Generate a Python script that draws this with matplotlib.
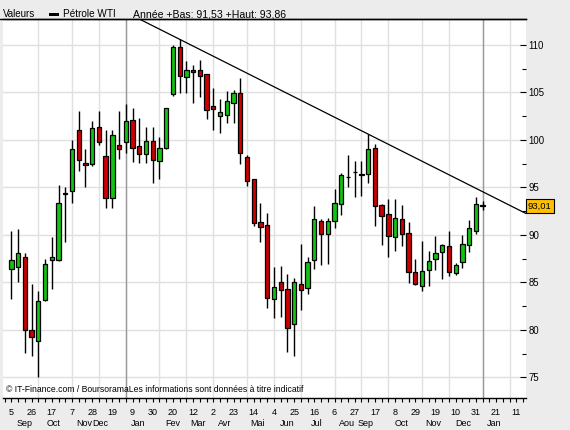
import numpy as np
import matplotlib.pyplot as plt
import matplotlib.transforms as mtransforms
from matplotlib.lines import Line2D

plt.rcParams['font.family'] = ['Liberation Sans', 'DejaVu Sans']

# Weekly candles of WTI crude, week of 5 Sep 2011 -> week of 7 Jan 2013
opens = [86.4, 86.6, 87.7, 79.95, 78.85, 83.1, 87.3, 87.3, 94.3, 94.65,
         101.0, 97.6, 97.5, 101.3, 98.3, 93.84, 99.5, 99.8, 102.1, 99.35,
         98.5, 99.87, 97.77, 99.1, 104.82, 109.74, 106.58, 107.35, 107.35, 106.9,
         103.56, 102.5, 102.58, 103.9, 104.9, 98.2, 95.84, 91.32, 91.03, 83.2,
         85.0, 84.26, 80.58, 84.79, 84.37, 87.32, 91.45, 90.13, 91.45, 93.24,
         96.1, 96.64, 96.35, 96.4, 99.1, 93.1, 92.16, 89.8, 91.63, 90.16,
         86.12, 84.64, 86.25, 87.42, 88.16, 88.8, 85.95, 87.1, 88.93, 90.43,
         93.1]
highs = [90.4, 90.6, 88.05, 84.8, 84.1, 87.45, 89.75, 95.25, 95.0, 100.0,
         103.0, 99.0, 102.0, 103.0, 101.0, 101.0, 103.0, 103.77, 103.4, 102.26,
         101.38, 101.3, 100.26, 103.3, 109.98, 110.58, 108.3, 107.87, 108.4, 106.9,
         105.5, 104.26, 105.14, 105.2, 106.47, 98.4, 95.9, 93.3, 92.26, 86.6,
         86.7, 85.87, 85.42, 89.0, 87.63, 93.03, 91.66, 91.8, 94.8, 96.47,
         98.4, 97.8, 97.8, 100.6, 99.56, 93.24, 93.77, 93.74, 93.14, 91.38,
         87.42, 89.35, 88.33, 89.84, 89.0, 90.4, 87.0, 89.98, 91.56, 94.0,
         93.6]
lows = [83.2, 85.0, 77.6, 77.2, 75.0, 83.0, 84.25, 87.2, 89.2, 93.3,
        96.75, 95.0, 97.2, 99.5, 92.8, 92.8, 98.0, 98.64, 97.7, 97.6,
        97.6, 95.5, 95.84, 99.0, 104.64, 104.9, 104.9, 103.84, 104.54, 102.16,
        101.0, 100.68, 101.8, 101.8, 97.5, 95.14, 90.96, 89.27, 82.33, 81.27,
        81.38, 77.63, 77.24, 82.1, 83.74, 86.43, 86.82, 86.96, 90.68, 92.08,
        95.06, 93.95, 94.08, 95.42, 90.93, 88.93, 87.7, 88.3, 88.82, 84.9,
        84.7, 84.12, 84.64, 86.3, 85.35, 85.7, 85.77, 86.54, 88.2, 90.08,
        92.6]
closes = [87.35, 88.05, 79.95, 79.2, 83.0, 86.9, 87.63, 93.3, 94.35, 99.0,
          97.9, 97.3, 101.2, 99.8, 93.84, 100.5, 99.0, 102.0, 99.1, 98.5,
          99.87, 97.87, 99.1, 103.3, 109.74, 106.72, 107.4, 107.1, 106.75, 103.1,
          103.2, 102.9, 104.08, 104.9, 98.58, 95.63, 91.21, 90.8, 83.32, 84.47,
          84.16, 80.16, 85.0, 84.16, 87.1, 91.63, 90.13, 91.45, 93.35, 96.3,
          96.05, 96.6, 96.3, 99.0, 93.06, 92.0, 89.9, 91.74, 90.05, 86.12,
          84.82, 86.2, 87.2, 88.05, 88.9, 86.05, 86.82, 89.0, 90.68, 93.24,
          93.01]

date_labels = ['5', '26', '17', '7', '28', '19', '9', '30', '20', '12', '2', '23', '14',
               '4', '25', '16', '6', '27', '17', '8', '29', '19', '10', '31', '21', '11']
month_labels = ['Sep', 'Oct', 'Nov', 'Dec', 'Jan', 'Fev', 'Mar', 'Avr', 'Mai',
                'Jun', 'Jul', 'Aou', 'Sep', 'Oct', 'Nov', 'Dec', 'Jan']
month_pos = [1.9, 6.2, 10.8, 13.2, 18.8, 23.9, 27.7, 31.7, 36.5,
             41.0, 45.3, 49.9, 52.6, 58.0, 62.6, 67.1, 71.7]
month_starts = [4, 9, 13, 17, 22, 26, 30, 35, 39, 43, 48, 52, 56, 61, 65, 70, 74]
year_starts = [17, 70]
trend_from, trend_to = 25, 53   # resistance line through these two highs

last_price = '93,01'
header = 'Année +Bas: 91,53 +Haut: 93,86'

o = np.array(opens); h = np.array(highs); l = np.array(lows); c = np.array(closes)
x = np.arange(len(o))

W, H = 570, 430
fig = plt.figure(figsize=(5.7, 4.3), dpi=100, facecolor='#ececec')
ax = fig.add_axes([3 / W, 1 - 398 / H, 523 / W, 379 / H])
ax.set_facecolor('white')

ax.set_xlim(-1.25, 76.45)
ax.set_ylim(72.82, 112.72)

# grid
for m in month_starts:
    ax.axvline(m, color='#e0e0e0', lw=1, zorder=0)
for yr in year_starts:
    ax.axvline(yr, color='#9a9a9a', lw=1, zorder=0.5)
for p in range(75, 111, 5):
    ax.axhline(p, color='#e0e0e0', lw=1, zorder=0)

# candles
colors = np.where(c >= o, '#13c313', '#cc0000')
ax.vlines(x, l, h, color='black', lw=1.0, zorder=2)
ax.bar(x, np.abs(c - o), bottom=np.minimum(o, c), width=0.64, color=colors,
       edgecolor='black', linewidth=0.9, zorder=3)

# trend line through two weekly highs
slope = (h[trend_to] - h[trend_from]) / (trend_to - trend_from)
xs = np.array([-1.25, 76.45])
ax.plot(xs, h[trend_from] + slope * (xs - trend_from), color='black', lw=0.9, zorder=4)

# axes styling
for side in ['left', 'right']:
    ax.spines[side].set_visible(False)
ax.spines['top'].set_linewidth(1.0)
ax.spines['bottom'].set_linewidth(1.0)

ax.yaxis.tick_right()
ax.set_yticks(range(75, 111, 5))
ax.set_yticks(np.arange(75, 112, 2.5), minor=True)
ax.tick_params(axis='y', which='major', direction='in', length=4, width=0.8,
               pad=2, labelsize=6.9)
ax.tick_params(axis='y', which='minor', direction='in', length=3, width=0.8)

ax.set_xticks(np.arange(0, 3 * len(date_labels), 3))
ax.set_xticklabels(date_labels)
ax.set_xticks(np.arange(-1, 77), minor=True)
ax.tick_params(axis='x', which='both', direction='out', length=3, width=0.8,
               pad=4, labelsize=6.5)

trans = mtransforms.blended_transform_factory(ax.transData, ax.transAxes)
for lab, pos in zip(month_labels, month_pos):
    ax.text(pos, -28 / 379, lab, transform=trans, ha='center', va='baseline',
            fontsize=6.5)

# last price box
ytrans = mtransforms.blended_transform_factory(ax.transAxes, ax.transData)
ax.text(1.0 + 2 / 523, c[-1], last_price, transform=ytrans, ha='left', va='center',
        fontsize=6.8, zorder=5,
        bbox=dict(boxstyle='square,pad=0.25', facecolor='#ffc000',
                  edgecolor='black', linewidth=0.8))

ax.text(3 / 523, 6 / 379, '© IT-Finance.com / BoursoramaLes informations sont données à titre indicatif',
        transform=ax.transAxes, ha='left', va='baseline', fontsize=6.2, zorder=6)

# header
fig.add_artist(Line2D([0, 526 / W], [1 - 19 / H, 1 - 19 / H], color='black', lw=1.0))
yb = 1 - 17.3 / H
fig.text(3 / W, yb, 'Valeurs', fontsize=7, va='baseline')
fig.add_artist(plt.Rectangle((49 / W, 1 - 15.8 / H), 10 / W, 2.6 / H,
                             facecolor='black', edgecolor='none'))
fig.text(63 / W, yb, 'Pétrole WTI', fontsize=7.2, va='baseline')
fig.text(133 / W, yb, header, fontsize=7.6, va='baseline')

fig.savefig('out.png', dpi=100, facecolor=fig.get_facecolor())
